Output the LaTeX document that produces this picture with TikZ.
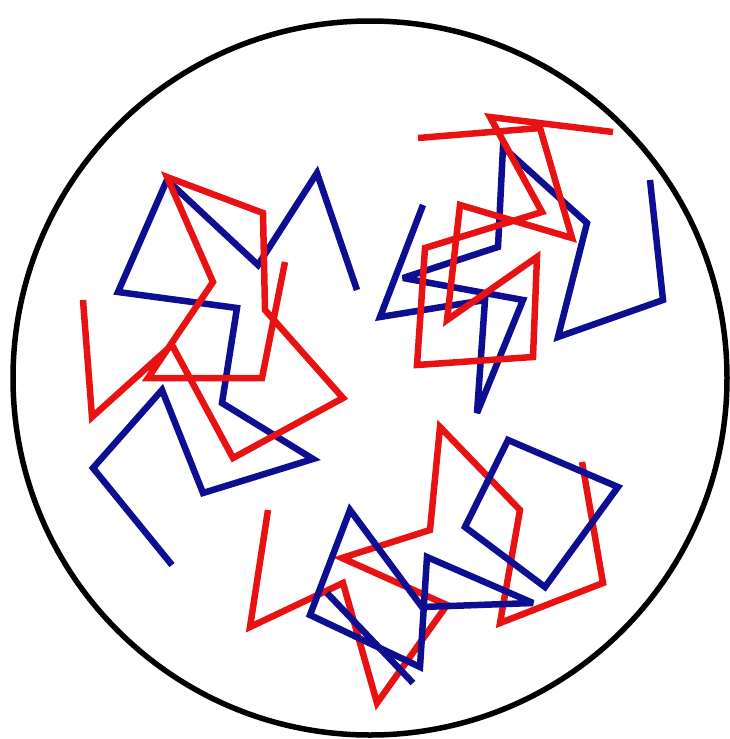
\documentclass[tikz,border=0pt]{standalone}
\usepackage{tikz}
\definecolor{chainred}{RGB}{232,18,18}
\definecolor{chainblue}{RGB}{14,14,146}

\begin{document}
\begin{tikzpicture}[x=1pt,y=-1pt,
  rim/.style={draw=black,line width=5.5pt},
  redchain/.style={draw=chainred,line width=6.5pt,line join=miter,miter limit=4},
  bluechain/.style={draw=chainblue,line width=6.5pt,line join=miter,miter limit=4},
]
\useasboundingbox[fill=white] (0,0) rectangle (730,739);

% Container
\draw[rim] (370,378) circle[radius=357pt];

% Cluster 1: upper left
\draw[bluechain] (357,290) -- (317,173) -- (258,265) -- (167,180) -- (118,292)
  -- (237,308) -- (222,403) -- (313,459) -- (203,493) -- (162,390)
  -- (93,468) -- (172,565);
\draw[redchain] (83,300) -- (92,417) -- (172,345) -- (233,458) -- (343,398)
  -- (265,310) -- (263,213) -- (167,177) -- (213,282) -- (148,378)
  -- (262,378) -- (285,262);

% Cluster 2: upper right
\draw[bluechain] (650,180) -- (663,300) -- (558,337) -- (587,223) -- (503,147)
  -- (498,247) -- (403,278) -- (523,300) -- (477,413) -- (485,300)
  -- (380,317) -- (423,205);
\draw[redchain] (613,132) -- (490,117) -- (542,212) -- (425,248) -- (417,365)
  -- (533,357) -- (537,257) -- (447,320) -- (460,205) -- (572,238)
  -- (540,128) -- (418,138);

% Cluster 3: bottom
\draw[redchain] (268,510) -- (250,627) -- (343,583) -- (377,703) -- (447,605)
  -- (342,558) -- (430,530) -- (440,427) -- (520,510) -- (500,623)
  -- (603,583) -- (582,462);
\draw[bluechain] (327,593) -- (413,683);
\draw[bluechain] (420,667) -- (310,615) -- (350,510) -- (422,607) -- (533,603)
  -- (427,557) -- cycle;
\draw[bluechain] (465,527) -- (508,440) -- (618,487) -- (545,587) -- cycle;

\end{tikzpicture}
\end{document}
